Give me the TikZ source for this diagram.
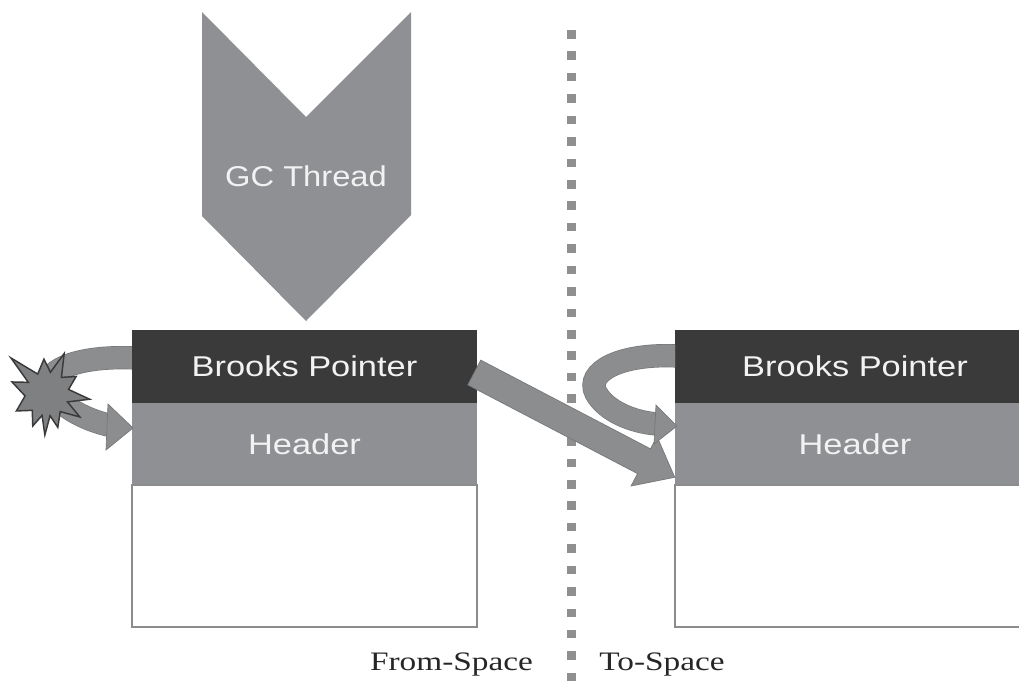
\documentclass[tikz,border=0pt]{standalone}
\usepackage{fontspec}
\usepackage{graphicx}
\setmainfont{Liberation Serif}
\newfontfamily\arialf{Liberation Sans}
\usetikzlibrary{calc}
\definecolor{darkband}{HTML}{3A3A3A}
\definecolor{midgray}{HTML}{8E9093}
\definecolor{arrowgray}{HTML}{8B8D8F}
\definecolor{edgegray}{HTML}{747678}
\definecolor{boxedge}{HTML}{8C8C8C}
\definecolor{dotgray}{HTML}{8F8F8F}
\definecolor{txtwhite}{HTML}{F2F2F2}
\definecolor{starfill}{HTML}{7E8082}
\definecolor{stardark}{HTML}{3A3A3A}
\begin{document}
\begin{tikzpicture}[x=0.75pt,y=-0.75pt,
  bandtxt/.style={font=\arialf\fontsize{21.5}{25}\selectfont, text=txtwhite, inner sep=0pt},
  bpband/.style={bandtxt, fill=darkband, minimum height=54.75pt},
  hdband/.style={bandtxt, fill=midgray, minimum height=61.5pt},
  bodybox/.style={fill=white, draw=boxedge, line width=1pt, minimum height=106.5pt, inner sep=0pt},
  ribbon/.style={draw=edgegray, line width=0.5pt, double=arrowgray, double distance=16.5pt},
  arrowbody/.style={fill=arrowgray, draw=edgegray, line width=0.5pt, line join=miter},
  spacelabel/.style={font=\fontsize{20}{24}\selectfont, text=black!85, inner sep=0pt, anchor=base},
  dotline/.style={draw=dotgray, line width=6.75pt, dash pattern=on 6.4pt off 9.67pt}
]
\clip (0,0) rectangle (1019,685);
\fill[white] (0,0) rectangle (1019,685);

% dotted separator
\coordinate (septop) at (571,30);
\coordinate (sepbot) at (571,690);
\draw[dotline] (septop) -- (sepbot);

% GC Thread chevron
\fill[midgray] (202,12) -- (306,117) -- (411,12) -- (411,215) -- (306,321) -- (202,216) -- cycle;
\node[bandtxt] (gc) at (306,176) {\scalebox{1.14}[1]{GC Thread}};

% left curved arrow (under the box)
\coordinate (tailL) at (136,358);
\coordinate (tipL) at (133,428);
\coordinate (endL) at (113,426);
\draw[ribbon] (tailL) .. controls (75,355) and (38,372) .. (52,392) .. controls (64,410) and (92,422) .. (endL);

% right curved arrow tail (under the box)
\coordinate (tailR) at (678,356);
\coordinate (tipR) at (677,426);
\coordinate (endR) at (657,424);

% left object
\node[bpband, minimum width=258.75pt] (bpL) at (304.5,366.5) {\scalebox{1.2}[1]{Brooks Pointer}};
\node[hdband, minimum width=258.75pt] (hdL) at (304.5,444) {\scalebox{1.2}[1]{Header}};
\node[bodybox, minimum width=258.75pt] (bdL) at (304.5,556) {};

% right object
\node[bpband, minimum width=270pt] (bpR) at (855,366.5) {\scalebox{1.2}[1]{Brooks Pointer}};
\node[hdband, minimum width=270pt] (hdR) at (855,444) {\scalebox{1.2}[1]{Header}};
\node[bodybox, minimum width=270pt] (bdR) at (855,556) {};

% left curved arrow head
\fill[arrowbody] ($(tipL)+(-25,-24)$) -- (tipL) -- ($(tipL)+(-27,22)$) -- cycle;

% explosion
\coordinate (boom) at (47,394);
\draw[fill=starfill, draw=stardark, line width=1.1pt, line join=miter]
  ($(boom)+(-135:51)$) -- ($(boom)+(-115:22)$) --
  ($(boom)+(-95:35)$) -- ($(boom)+(-81:22)$) --
  ($(boom)+(-67:44)$) -- ($(boom)+(-49:22)$) --
  ($(boom)+(-31:34)$) -- ($(boom)+(-12:22)$) --
  ($(boom)+(7:43)$) -- ($(boom)+(21:22)$) --
  ($(boom)+(35:40)$) -- ($(boom)+(53:22)$) --
  ($(boom)+(72:35)$) -- ($(boom)+(82:22)$) --
  ($(boom)+(93:41)$) -- ($(boom)+(103:22)$) --
  ($(boom)+(114:35)$) -- ($(boom)+(132:22)$) --
  ($(boom)+(151:35)$) -- ($(boom)+(175:22)$) --
  ($(boom)+(199:37)$) -- ($(boom)+(212:22)$) -- cycle;

% straight forwarding arrow
\coordinate (s1) at ($(bpL.east)+(-3,6)$);
\coordinate (t1) at ($(hdR.south west)+(0,-8)$);
\coordinate (h1) at ($(t1)!26pt!(s1)$);
\fill[arrowbody] ($(s1)!10.5pt!90:(t1)$) -- ($(h1)!10.5pt!-90:(s1)$) -- ($(h1)!21pt!-90:(s1)$) -- (t1)
  -- ($(h1)!21pt!90:(s1)$) -- ($(h1)!10.5pt!90:(s1)$) -- ($(s1)!10.5pt!-90:(t1)$) -- cycle;

% right curved arrow
\begin{scope}
\clip (0,0) rectangle (675,685);
\draw[ribbon] (tailR) .. controls (620,353) and (585,372) .. (596,393) .. controls (606,411) and (632,422) .. (endR);
\end{scope}
\fill[arrowbody] ($(tipR)+(-21,-21)$) -- (tipR) -- ($(tipR)+(-23,18)$) -- cycle;

% space labels
\node[spacelabel] (from) at (451.5,670) {\scalebox{1.25}[1]{From-Space}};
\node[spacelabel] (to) at (662,670) {\scalebox{1.25}[1]{To-Space}};
\end{tikzpicture}
\end{document}
